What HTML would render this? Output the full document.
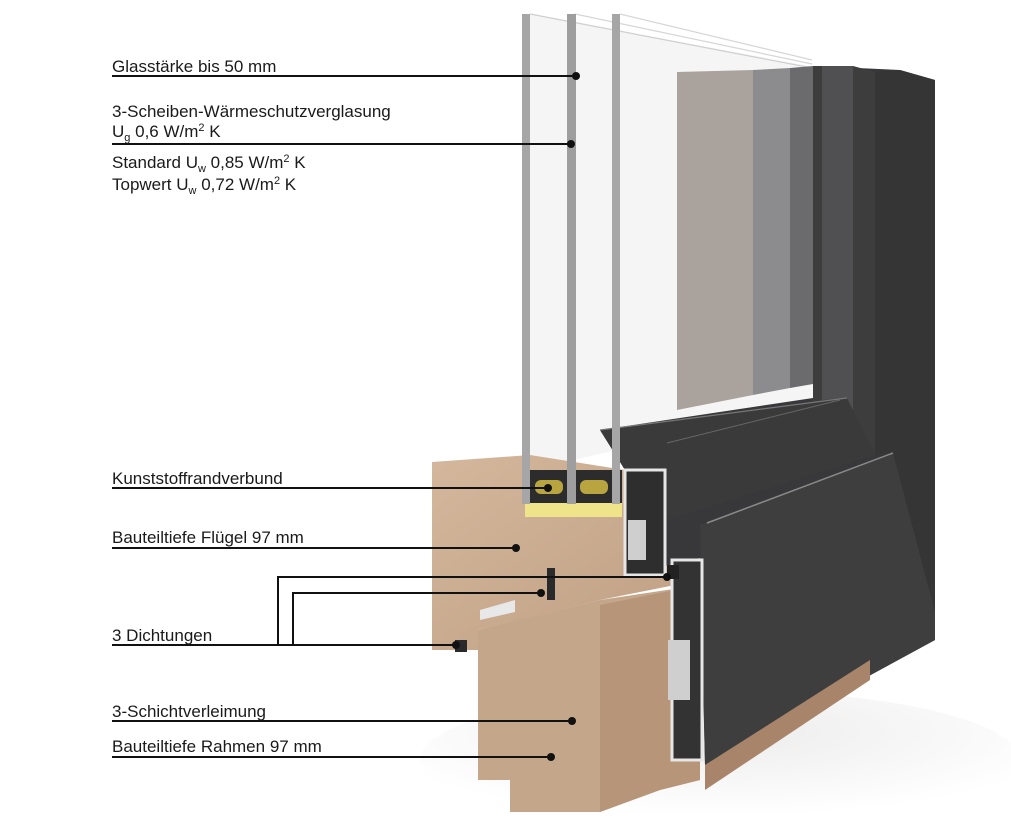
<!DOCTYPE html>
<html><head><meta charset="utf-8"><style>
html,body{margin:0;padding:0;background:#fff;}
svg text{font-family:"Liberation Sans",sans-serif;font-size:17px;fill:#1a1a1a;}
</style></head><body>
<svg width="1011" height="828" viewBox="0 0 1011 828" xmlns="http://www.w3.org/2000/svg">
<defs>
<linearGradient id="wd" x1="0" y1="0" x2="1" y2="1"><stop offset="0" stop-color="#d4b79c"/><stop offset="1" stop-color="#bf9f84"/></linearGradient>
<radialGradient id="sh" cx="0.5" cy="0.3" r="0.6"><stop offset="0" stop-color="#ececec"/><stop offset="1" stop-color="#ffffff"/></radialGradient>
</defs>
<ellipse cx="720" cy="760" rx="300" ry="70" fill="url(#sh)"/>
<!-- glass perspective -->
<polygon points="530,14 810,66 813,405 530,470" fill="#f1f1f1" opacity="0.7"/>
<line x1="530" y1="14" x2="812" y2="68" stroke="#cfcfcf" stroke-width="1.2"/>
<line x1="575" y1="14" x2="812" y2="64" stroke="#d6d6d6" stroke-width="1.2"/>
<line x1="620" y1="14" x2="812" y2="60" stroke="#d6d6d6" stroke-width="1.2"/>
<!-- backing dark -->
<polygon points="813,66 900,70 935,80 935,640 705,765 700,560 625,575 625,470 600,430 813,398" fill="#38383a"/>
<!-- back view area -->
<polygon points="677,72 753,70 753,395 677,410" fill="#aaa29c"/>
<polygon points="753,70 790,68 790,388 753,395" fill="#8c8c8e"/>
<polygon points="790,68 813,66 813,384 790,388" fill="#6b6b6d"/>
<!-- sash vertical -->
<polygon points="813,66 853,66 875,72 875,455 847,398 813,405" fill="#3d3d3e"/>
<polygon points="822,66 853,66 853,440 847,398 822,400" fill="#505052"/>
<!-- frame vertical -->
<polygon points="875,72 900,70 935,80 935,612 893,453 875,455" fill="#353536"/>
<!-- sash bottom rail -->
<polygon points="600,430 847,398 875,455 667,520 625,520 625,470" fill="#3a3a3b"/>
<line x1="600" y1="430" x2="847" y2="398" stroke="#777" stroke-width="1.2"/>
<line x1="667" y1="443" x2="840" y2="400" stroke="#666" stroke-width="1"/>
<!-- frame bottom rail -->
<polygon points="700,525 893,453 935,612 935,640 705,765" fill="#3e3e3f"/>
<line x1="707" y1="523" x2="893" y2="453" stroke="#8a8a8a" stroke-width="1.5"/>
<polygon points="705,765 870,660 870,680 705,790" fill="#a8856a"/>
<!-- wood upper sash -->
<polygon points="432,462 530,455 625,470 625,575 700,558 700,580 600,600 520,620 478,630 478,650 432,650" fill="url(#wd)"/>
<!-- wood lower frame -->
<polygon points="478,630 600,600 700,585 700,780 660,790 600,812 510,812 510,780 478,780" fill="#c4a68a"/>
<polygon points="600,605 700,585 700,780 660,790 600,812" fill="#b69579"/>
<!-- groove -->
<polygon points="480,610 515,600 515,612 480,620" fill="#e8e8e8"/>
<!-- alu profiles -->
<rect x="625" y="470" width="40" height="105" fill="#2e2e2e" stroke="#e6e6e6" stroke-width="3"/>
<rect x="628" y="520" width="18" height="40" fill="#cfcfcf"/>
<rect x="672" y="560" width="30" height="200" fill="#333" stroke="#e6e6e6" stroke-width="3"/>
<rect x="668" y="640" width="22" height="60" fill="#cfcfcf"/>
<rect x="667" y="565" width="12" height="14" fill="#222"/>
<rect x="547" y="568" width="8" height="32" fill="#2a2a2a"/>
<rect x="455" y="640" width="12" height="12" fill="#2a2a2a"/>
<!-- glass edge spacer -->
<rect x="525" y="470" width="97" height="33" fill="#2c2c2c"/>
<rect x="535" y="480" width="28" height="14" rx="6" fill="#b9a540"/>
<rect x="580" y="480" width="28" height="14" rx="6" fill="#b9a540"/>
<rect x="525" y="503" width="97" height="14" fill="#efe48a"/>
<!-- panes -->
<rect x="522" y="14" width="8" height="490" fill="#a6a6a6"/>
<rect x="567" y="14" width="9" height="490" fill="#9e9e9e"/>
<rect x="612" y="14" width="8" height="490" fill="#a6a6a6"/>
<!-- labels & leaders -->
<g stroke="#111" stroke-width="2" fill="none">
<line x1="112" y1="76" x2="576" y2="76"/>
<line x1="112" y1="144" x2="571" y2="144"/>
<line x1="112" y1="488" x2="548" y2="488"/>
<line x1="112" y1="548" x2="516" y2="548"/>
<polyline points="278,645 278,577 667,577"/>
<polyline points="293,645 293,593 541,593"/>
<line x1="112" y1="645" x2="456" y2="645"/>
<line x1="112" y1="721" x2="572" y2="721"/>
<line x1="112" y1="757" x2="551" y2="757"/>
</g>
<g fill="#111">
<circle cx="576" cy="76" r="4"/><circle cx="571" cy="144" r="4"/>
<circle cx="548" cy="488" r="4"/><circle cx="516" cy="548" r="4"/>
<circle cx="667" cy="577" r="4"/><circle cx="541" cy="593" r="4"/>
<circle cx="456" cy="645" r="4"/><circle cx="572" cy="721" r="4"/>
<circle cx="551" cy="757" r="4"/>
</g>
<text x="112" y="72">Glasstärke bis 50 mm</text>
<text x="112" y="117">3-Scheiben-Wärmeschutzverglasung</text>
<text x="112" y="137">U<tspan font-size="11" dy="4">g</tspan><tspan dy="-4"> 0,6 W/m</tspan><tspan font-size="11" dy="-6">2</tspan><tspan dy="6"> K</tspan></text>
<text x="112" y="168">Standard U<tspan font-size="11" dy="4">w</tspan><tspan dy="-4"> 0,85 W/m</tspan><tspan font-size="11" dy="-6">2</tspan><tspan dy="6"> K</tspan></text>
<text x="112" y="190">Topwert U<tspan font-size="11" dy="4">w</tspan><tspan dy="-4"> 0,72 W/m</tspan><tspan font-size="11" dy="-6">2</tspan><tspan dy="6"> K</tspan></text>
<text x="112" y="484">Kunststoffrandverbund</text>
<text x="112" y="543">Bauteiltiefe Flügel 97 mm</text>
<text x="112" y="641">3 Dichtungen</text>
<text x="112" y="717">3-Schichtverleimung</text>
<text x="112" y="752">Bauteiltiefe Rahmen 97 mm</text>
</svg>
</body></html>
